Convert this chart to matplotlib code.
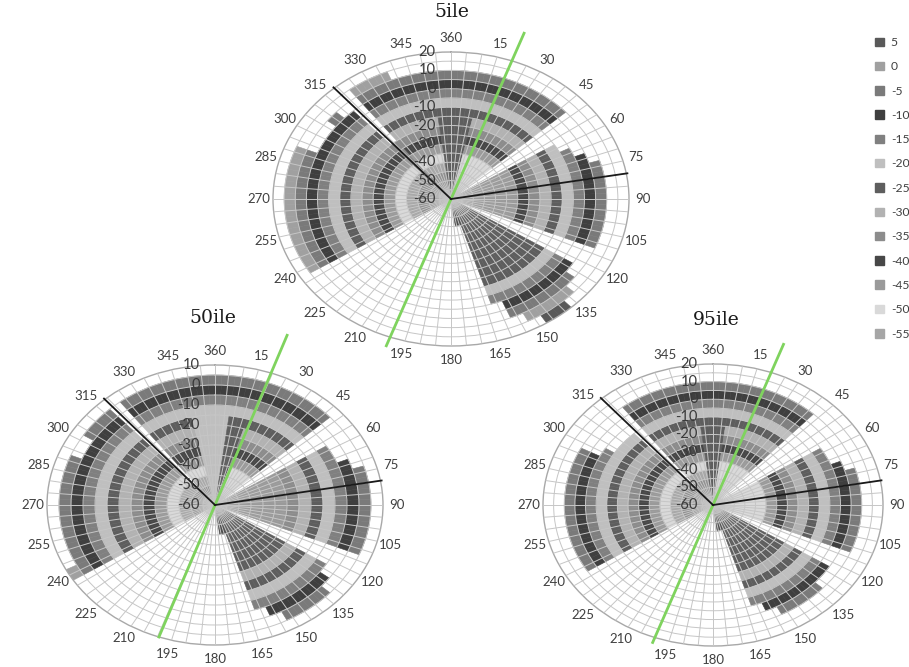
import numpy as np
import matplotlib
matplotlib.use('Agg')
import matplotlib.pyplot as plt
from matplotlib.patches import Patch
from matplotlib.transforms import offset_copy

plt.rcParams['font.family'] = ['Lato', 'DejaVu Sans']

# ---------------- data ----------------
directions = list(range(0, 360, 5))
angle_labels = ['360' if d == 0 else str(d) for d in range(0, 360, 15)]

legend_labels = [5, 0, -5, -10, -15, -20, -25, -30, -35, -40, -45, -50, -55]
legend_colors = ['#595959', '#a0a0a0', '#7a7a7a', '#3f3f3f', '#808080', '#bfbfbf',
                 '#5e5e5e', '#b2b2b2', '#8c8c8c', '#474747', '#9a9a9a', '#d9d9d9', '#a6a6a6']

# 5ile : outer extent (top), solid core extent, core colour (legend label)
top_5 = [10, 10, 10, 10, 10, 10, 10, 10, 10, 10, -60, -60,
         -5, 0, 5, 10, 10, 10, 10, 10, 10, 10, 10, -60,
         -60, 5, 10, 15, 20, 20, 15, 10, 0, -45, -45, -60,
         -60, -60, -60, -60, -60, -60, -60, -60, -60, -60, -60, -60,
         15, 15, 15, 15, 15, 15, 15, 15, 15, 15, 15, 5,
         5, 5, 10, 5, -20, 15, 15, 15, 10, 10, 10, 10]
core_5 = [-10, -10, -10, -35, -35, -35, -35, -35, -35, -35, -60, -60,
          -30, -30, -30, -30, -30, -30, -30, -30, -30, -30, -30, -60,
          -60, -10, -10, -10, -10, -10, -10, -10, -10, -45, -45, -60,
          -60, -60, -60, -60, -60, -60, -60, -60, -60, -60, -60, -60,
          -45, -45, -45, -45, -45, -45, -45, -45, -45, -45, -45, -45,
          -45, -45, -45, -45, -20, -45, -45, -45, -45, -45, -45, -10]
corecol_5 = [-25, -25, -25, -50, -50, -50, -50, -50, -50, -50, 0, 0,
             -45, -45, -45, -45, -45, -45, -45, -45, -45, -45, -45, 0,
             0, -25, -25, -25, -25, -25, -25, -25, -25, -40, -40, 0,
             0, 0, 0, 0, 0, 0, 0, 0, 0, 0, 0, 0,
             -35, -35, -35, -35, -35, -35, -35, -35, -35, -35, -35, -35,
             -35, -35, -35, -35, -35, -35, -35, -35, -35, -35, -35, -25]

# 50ile
top_50 = [5, 5, 5, 5, 5, 5, 5, 5, 5, 5, -60, -60,
          -5, -5, 0, 5, 5, 5, 5, 5, 5, 5, 5, -60,
          -60, -5, 0, 5, 5, 5, 5, 0, -5, -45, -45, -60,
          -60, -60, -60, -60, -60, -60, -60, -60, -60, -60, -60, -60,
          10, 5, 5, 5, 5, 5, 5, 5, 5, 5, 5, 0,
          0, 5, 5, 5, -60, 5, 5, 5, 5, 5, 5, 5]
core_50 = [-15, -15, -15, -15, -40, -40, -40, -40, -40, -40, -60, -60,
           -30, -30, -30, -30, -30, -30, -30, -30, -30, -30, -30, -60,
           -60, -25, -25, -25, -25, -25, -25, -25, -25, -45, -45, -60,
           -60, -60, -60, -60, -60, -60, -60, -60, -60, -60, -60, -60,
           -50, -50, -50, -50, -50, -50, -50, -50, -50, -50, -50, -50,
           -50, -50, -50, -50, -60, -50, -50, -50, -50, -50, -15, -15]
corecol_50 = [-20, -20, -25, -25, -50, -50, -50, -50, -50, -50, 0, 0,
              -45, -45, -45, -45, -45, -45, -45, -45, -45, -45, -45, 0,
              0, -25, -25, -25, -25, -25, -25, -25, -25, -40, -40, 0,
              0, 0, 0, 0, 0, 0, 0, 0, 0, 0, 0, 0,
              -35, -35, -35, -35, -35, -35, -35, -35, -35, -35, -35, -35,
              -35, -35, -35, -35, 0, -35, -35, -35, -35, -35, -20, -20]

# 95ile
top_95 = [10, 10, 10, 10, 10, 10, 10, 10, 10, -60, -60, -60,
          0, 0, 5, 10, 10, 10, 10, 10, 10, 10, 10, -60,
          -60, 5, 5, 10, 10, 10, 10, 5, 0, -45, -45, -60,
          -60, -60, -60, -60, -60, -60, -60, -60, -60, -60, -60, -60,
          10, 10, 10, 10, 10, 10, 10, 10, 10, 10, 10, 10,
          0, -5, -5, -5, -60, 10, 10, 10, 10, 10, 10, 10]
core_95 = [-10, -10, -35, -35, -35, -35, -35, -35, -35, -60, -60, -60,
           -35, -35, -35, -35, -35, -35, -35, -35, -35, -35, -35, -60,
           -60, -20, -20, -20, -20, -20, -20, -20, -20, -45, -45, -60,
           -60, -60, -60, -60, -60, -60, -60, -60, -60, -60, -60, -60,
           -45, -45, -45, -45, -45, -45, -45, -45, -45, -45, -45, -45,
           -45, -45, -45, -45, -60, -45, -45, -45, -45, -45, -45, -10]
corecol_95 = [-25, -25, -50, -50, -50, -50, -50, -50, -50, 0, 0, 0,
              -50, -50, -50, -50, -50, -50, -50, -50, -50, -50, -50, 0,
              0, -25, -25, -25, -25, -25, -25, -25, -25, -40, -40, 0,
              0, 0, 0, 0, 0, 0, 0, 0, 0, 0, 0, 0,
              -35, -35, -35, -35, -35, -35, -35, -35, -35, -35, -35, -35,
              -35, -35, -35, -35, 0, -35, -35, -35, -35, -35, -35, -25]

# ---------------- drawing ----------------
col_of = dict(zip(legend_labels, legend_colors))
CORE_GRAY = '#8a8a8a'


def band_color(lbl):
    return col_of.get(lbl, CORE_GRAY)


fig = plt.figure(figsize=(9.09, 6.67), dpi=100)
W, H = 909, 667


def make_chart(cx, cy, rh, rv, rmax, off, top, core, corecol,
               title, txy, green, black):
    ax = fig.add_axes([(cx - rh) / W, (H - cy - rv) / H, 2 * rh / W, 2 * rv / H],
                      projection='polar')
    ax.set_aspect('auto')
    ax.set_theta_zero_location('N')
    ax.set_theta_direction(-1)
    ax.set_ylim(-60, rmax)
    ths, hs, bs, cs = [], [], [], []
    for i, d in enumerate(directions):
        t, c, k = top[i], core[i], corecol[i]
        if t <= -60:
            continue
        th = np.deg2rad(d)
        ths.append(th); bs.append(-60); hs.append(c + 60); cs.append(band_color(k))
        for a in range(c, t, 5):
            ths.append(th); bs.append(a); hs.append(5); cs.append(band_color(a - off))
    ax.bar(ths, hs, width=np.deg2rad(5), bottom=bs, color=cs, edgecolor=cs,
           linewidth=0.4, zorder=1)
    ax.set_xticks(np.deg2rad(directions))
    ax.set_xticklabels([('360' if d == 0 else str(d)) if d % 15 == 0 else ''
                        for d in directions])
    ax.tick_params(axis='x', pad=3, labelsize=9.5, labelcolor='#404040', length=0)
    ax.set_yticks(np.arange(-55, rmax, 5))
    ax.set_yticklabels([])
    ax.set_axisbelow(False)
    ax.grid(True, color='#c6c6c6', linewidth=0.7)
    ax.spines['polar'].set_color('#a8a8a8')
    ax.spines['polar'].set_linewidth(1.0)
    tr = offset_copy(ax.transData, fig=fig, x=-11, y=0, units='points')
    for v in range(-60, rmax + 1, 10):
        ax.text(0, v, str(v), transform=tr, ha='right', va='center',
                fontsize=10.5, color='#3a3a3a', zorder=6)
    g_ang, g_top, g_bot = green
    ax.plot([np.deg2rad(g_ang)] * 2, [g_top, -60], color='#7fd35e', lw=2,
            clip_on=False, zorder=5)
    ax.plot([np.deg2rad(g_ang + 180)] * 2, [-60, g_bot], color='#7fd35e', lw=2,
            clip_on=False, zorder=5)
    for b_ang in black:
        ax.plot([np.deg2rad(b_ang)] * 2, [-60, rmax + 0.5], color='#1a1a1a',
                lw=1.3, clip_on=False, zorder=5)
    fig.text(txy[0] / W, 1 - txy[1] / H, title, ha='center', va='center',
             fontsize=13.5, family='DejaVu Serif', color='#1a1a1a')
    return ax


make_chart(451, 199, 178, 147, 20, 10, top_5, core_5, corecol_5,
           '5ile', (452, 12), (20, 36, 25), (80, 319))
make_chart(215, 505, 168, 140, 10, 5, top_50, core_50, corecol_50,
           '50ile', (213, 318), (19.5, 30, 10), (80, 319))
make_chart(713, 505, 170, 141, 20, 10, top_95, core_95, corecol_95,
           '95ile', (716, 320), (20, 37, 23), (80, 319))

handles = [Patch(facecolor=c, edgecolor=c) for c in legend_colors]
fig.legend(handles, [str(v) for v in legend_labels], loc='upper left',
           bbox_to_anchor=(869 / W, 1 - 31 / H), frameon=False, fontsize=8.7,
           handlelength=0.7, handleheight=0.7, handletextpad=0.6,
           labelspacing=1.1, borderpad=0, labelcolor='#404040')

fig.savefig('out.png', dpi=100, facecolor='white')
